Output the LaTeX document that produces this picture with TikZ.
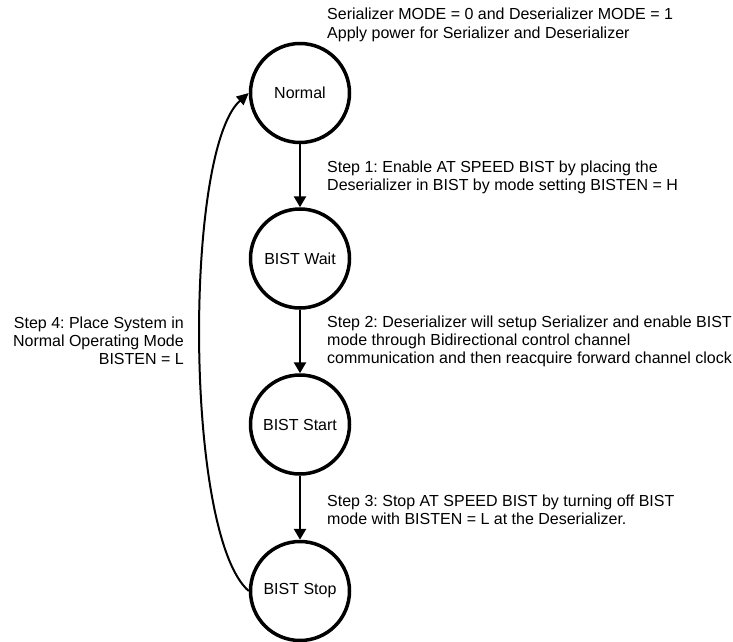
\documentclass[tikz,border=0pt]{standalone}
\usepackage{fontspec}
\setmainfont{Liberation Sans}
\usetikzlibrary{arrows.meta}
\begin{document}
\frenchspacing
\begin{tikzpicture}[x=1pt,y=-1pt,
  state/.style={circle,draw,line width=3.5pt,minimum size=99pt,inner sep=0pt,font=\fontsize{16}{18}\selectfont},
  flow/.style={line width=2.6pt,-{Triangle[width=12pt,length=11pt]}},
  back/.style={line width=2pt,-{Triangle[width=11pt,length=12pt]}},
  note/.style={inner sep=0pt,font=\fontsize{16}{18}\selectfont}]
\useasboundingbox (0,0) rectangle (733,642);
\node[state] (normal) at (300,93) {Normal};
\node[state] (wait) at (300,258.5) {BIST Wait};
\node[state] (start) at (300,424.5) {BIST Start};
\node[state] (stop) at (300,591) {BIST Stop};
\draw[flow] (normal) -- (wait);
\draw[flow] (wait) -- (start);
\draw[flow] (start) -- (stop);
\draw[back] (stop.west) .. controls (184,535) and (184,150) .. (normal.west);
\node[note,anchor=base west,align=left] (n0) at (327,38) {Serializer MODE = 0 and Deserializer MODE = 1\\Apply power for Serializer and Deserializer};
\node[note,anchor=base west,align=left] (n1) at (327,190) {Step 1: Enable AT SPEED BIST by placing the\\Deserializer in BIST by mode setting BISTEN = H};
\node[note,anchor=base west,align=left] (n2) at (327,363) {Step 2: Deserializer will setup Serializer and enable BIST\\mode through Bidirectional control channel\\communication and then reacquire forward channel clock};
\node[note,anchor=base west,align=left] (n3) at (327,524) {Step 3: Stop AT SPEED BIST by turning off BIST\\mode with BISTEN = L at the Deserializer.};
\node[note,anchor=base east,align=right] (n4) at (184,364) {Step 4: Place System in\\Normal Operating Mode\\BISTEN = L};
\end{tikzpicture}
\end{document}
